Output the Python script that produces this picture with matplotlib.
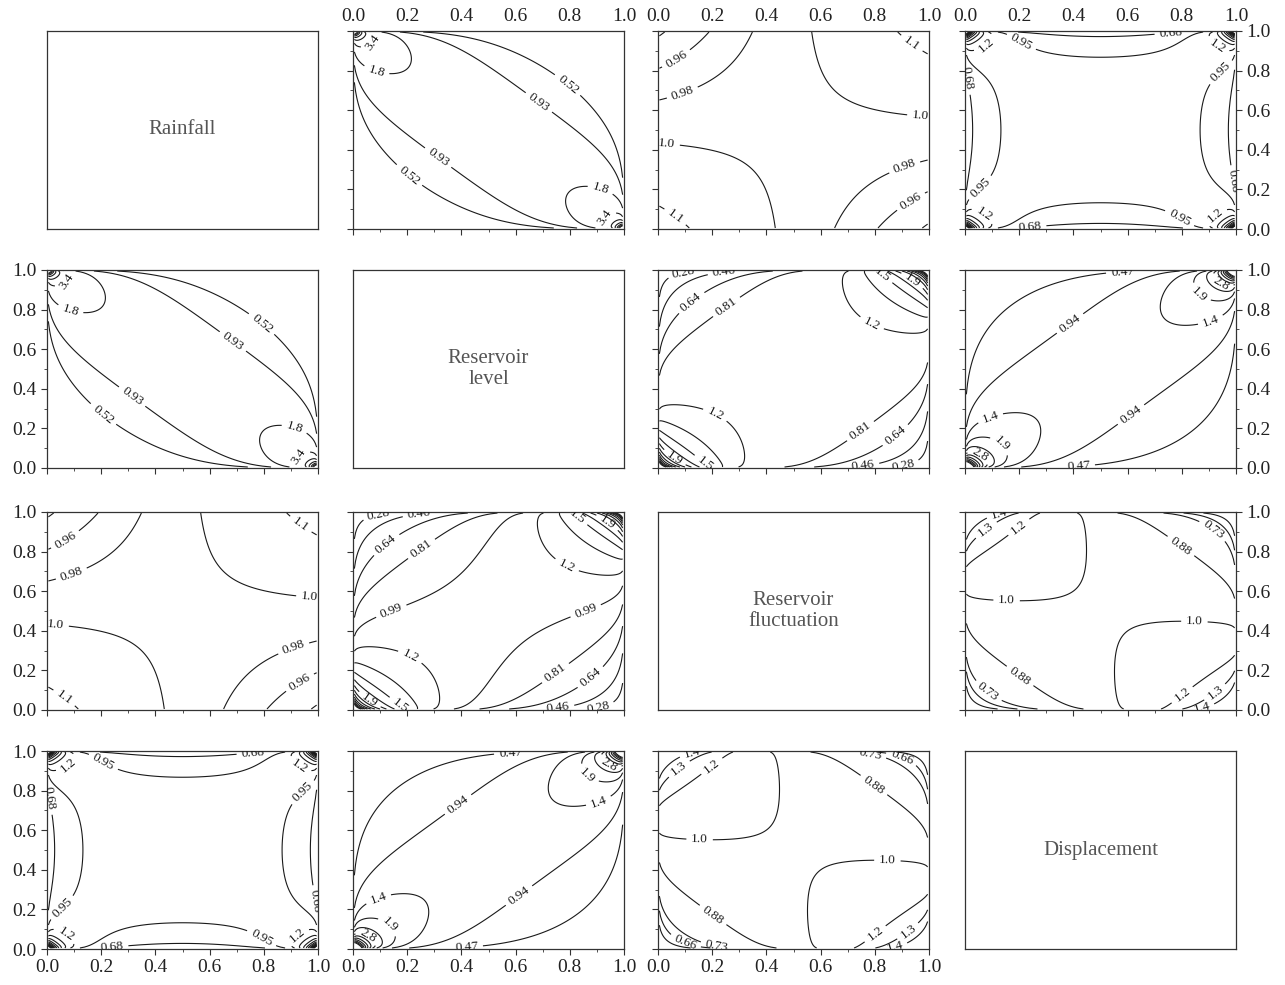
import numpy as np
import matplotlib
matplotlib.use("Agg")
import matplotlib.pyplot as plt
from matplotlib.ticker import MultipleLocator, FormatStrFormatter
from math import lgamma

plt.rcParams['font.family'] = ['Liberation Serif', 'DejaVu Serif']

# variables on the diagonal
variables = ["Rainfall", "Reservoir\nlevel", "Reservoir\nfluctuation", "Displacement"]

# fitted copula for each pair (row var, col var)
pairs = [(0, 1), (0, 2), (0, 3), (1, 2), (1, 3), (2, 3)]
families = ["t", "frank", "t", "gauss", "t", "gauss"]
dependence = [-0.62, 0.13, 0.0, 0.30, 0.50, -0.15]
dof = [8, 0, 4, 0, 8, 0]

# contour levels
levels_rain_level = [0.52, 0.93, 1.8, 3.4, 5.1, 6.8, 8.5, 10.2, 11.9]
labels_rain_level = [0.52, 0.93, 1.8, 3.4, 5.1]
levels_rain_fluct = [0.94, 0.96, 0.98, 1.008, 1.05]
labels_rain_fluct = [0.94, 0.96, 0.98, 1.008, 1.05]
levels_rain_disp = [0.68, 0.95, 1.22, 1.49, 1.76, 2.03, 2.3, 2.57, 2.84, 3.11, 3.38, 3.65,
                    3.92, 4.19]
labels_rain_disp = [0.68, 0.95, 1.22, 1.49, 2.03]
levels_level_fluct = [0.28, 0.46, 0.64, 0.81, 1.17, 1.35, 1.53, 1.71, 1.89, 2.07, 2.25, 2.43,
                      2.61, 2.79, 2.97, 3.15]
labels_level_fluct = [0.28, 0.46, 0.64, 0.81, 1.17, 1.53, 1.89]
levels_fluct_level = [0.28, 0.46, 0.64, 0.81, 0.99, 1.17, 1.35, 1.53, 1.71, 1.89, 2.07, 2.25,
                      2.43, 2.61, 2.79, 2.97, 3.15]
labels_fluct_level = [0.28, 0.46, 0.64, 0.81, 0.99, 1.17, 1.53, 1.89]
levels_level_disp = [0.47, 0.94, 1.41, 1.88, 2.35, 2.82, 3.29, 3.76, 4.23, 4.70, 5.17, 5.64]
labels_level_disp = [0.47, 0.94, 1.41, 1.88, 2.82, 3.76]
levels_fluct_disp = [0.58, 0.66, 0.73, 0.88, 1.02, 1.18, 1.3, 1.42]
labels_fluct_disp = [0.73, 0.88, 1.02, 1.18, 1.3, 1.42]
labels_disp_fluct = [0.66, 0.73, 0.88, 1.02, 1.18, 1.3, 1.42]

panel_levels = {
    (0, 1): (levels_rain_level, labels_rain_level), (1, 0): (levels_rain_level, labels_rain_level),
    (0, 2): (levels_rain_fluct, labels_rain_fluct), (2, 0): (levels_rain_fluct, labels_rain_fluct),
    (0, 3): (levels_rain_disp, labels_rain_disp), (3, 0): (levels_rain_disp, labels_rain_disp),
    (1, 2): (levels_level_fluct, labels_level_fluct), (2, 1): (levels_fluct_level, labels_fluct_level),
    (1, 3): (levels_level_disp, labels_level_disp), (3, 1): (levels_level_disp, labels_level_disp),
    (2, 3): (levels_fluct_disp, labels_fluct_disp), (3, 2): (levels_fluct_disp, labels_disp_fluct),
}


def quantile(u, nu):
    xs = np.linspace(-60, 60, 240001)
    if nu == 0:
        pdf = np.exp(-0.5 * xs ** 2)
    else:
        pdf = (1 + xs ** 2 / nu) ** (-(nu + 1) / 2)
    cdf = np.concatenate([[0], np.cumsum((pdf[1:] + pdf[:-1]) / 2 * np.diff(xs))])
    cdf /= cdf[-1]
    return np.interp(u, cdf, xs)


def copula_density(U, V, family, par, nu):
    if family == "frank":
        e = np.exp(-par)
        num = par * (1 - e) * np.exp(-par * (U + V))
        den = ((1 - e) - (1 - np.exp(-par * U)) * (1 - np.exp(-par * V))) ** 2
        return num / den
    x = quantile(U, nu)
    y = quantile(V, nu)
    r = par
    if family == "gauss":
        q = (r ** 2 * (x ** 2 + y ** 2) - 2 * r * x * y) / (2 * (1 - r ** 2))
        return np.exp(-q) / np.sqrt(1 - r ** 2)
    k = np.exp(lgamma((nu + 2) / 2) + lgamma(nu / 2) - 2 * lgamma((nu + 1) / 2)) / np.sqrt(1 - r ** 2)
    q = (x ** 2 + y ** 2 - 2 * r * x * y) / (1 - r ** 2)
    return k * (1 + q / nu) ** (-(nu + 2) / 2) * ((1 + x ** 2 / nu) * (1 + y ** 2 / nu)) ** ((nu + 1) / 2)


def level_text(v):
    return f"{v:#.2g}"


grid = np.linspace(0.005, 0.995, 221)
U, V = np.meshgrid(grid, grid)

W, H = 1285, 985
col_left = [47, 353, 658, 965]
row_top = [31, 270, 512, 751]
pw, ph = 271, 198

fig = plt.figure(figsize=(W / 100, H / 100), dpi=100)

for i in range(4):
    for j in range(4):
        ax = fig.add_axes([col_left[j] / W, 1 - (row_top[i] + ph) / H, pw / W, ph / H])
        for s in ax.spines.values():
            s.set_linewidth(0.9)
            s.set_color('#333333')
        if i == j:
            ax.set_xticks([])
            ax.set_yticks([])
            ax.text(0.5, 0.5, variables[i], ha='center', va='center', fontsize=15,
                    color='#555555', transform=ax.transAxes, linespacing=1.15)
            continue
        k = pairs.index((min(i, j), max(i, j)))
        Z = copula_density(U, V, families[k], dependence[k], dof[k])
        levels, lab = panel_levels[(i, j)]
        cs = ax.contour(U, V, Z, levels=levels, colors='#1a1a1a', linewidths=0.8)
        ax.clabel(cs, levels=lab, inline=True, fontsize=9.5, fmt=level_text)
        ax.set_xlim(0, 1)
        ax.set_ylim(0, 1)
        for axis in (ax.xaxis, ax.yaxis):
            axis.set_major_locator(MultipleLocator(0.2))
            axis.set_minor_locator(MultipleLocator(0.1))
            axis.set_major_formatter(FormatStrFormatter('%.1f'))
        ax.tick_params(which='major', direction='out', length=4, width=0.8, color='#333333',
                       labelsize=14, labelcolor='#222222', pad=3.5)
        ax.tick_params(which='minor', direction='out', length=2.5, width=0.6, color='#333333')
        ax.tick_params(axis='x', which='both', bottom=True, top=False,
                       labelbottom=(i == 3), labeltop=(i == 0))
        ax.tick_params(axis='y', which='both', left=True, right=(j == 3),
                       labelleft=(j == 0), labelright=(j == 3))
        if i == 0:
            # top labels sit closer to the frame (no ticks drawn there)
            ax.tick_params(axis='x', which='major', pad=0)

fig.savefig("out.png", dpi=100)
